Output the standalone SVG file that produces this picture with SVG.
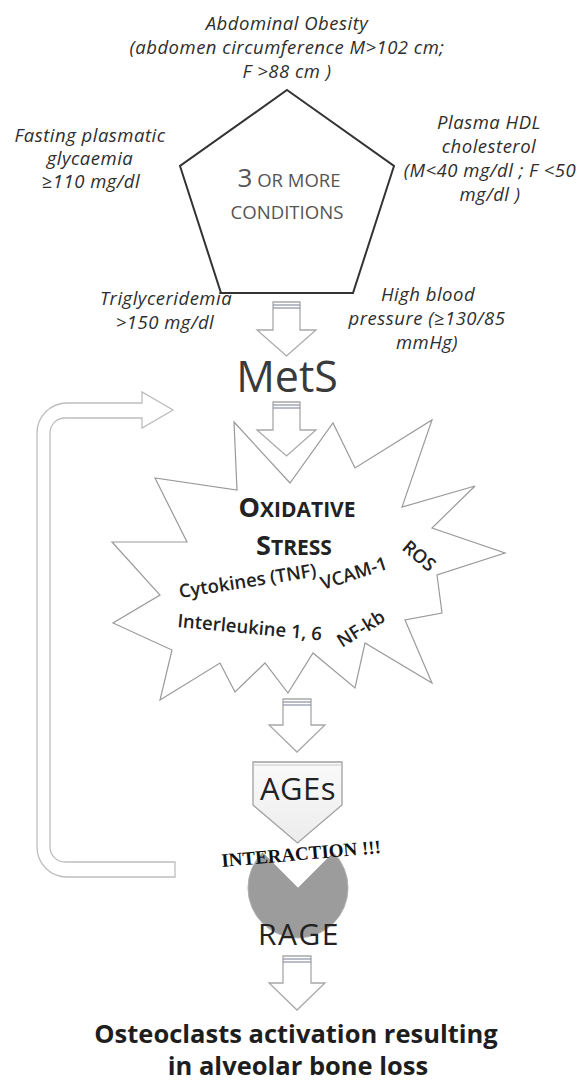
<svg xmlns="http://www.w3.org/2000/svg" width="580" height="1086" viewBox="0 0 580 1086">
<style>
.lbl{font-family:"Open Sans","Liberation Sans",sans-serif;font-style:italic;font-size:18.5px;letter-spacing:0.5px;fill:#2e2e2e;text-anchor:middle}
.sc{font-family:"Open Sans","Liberation Sans",sans-serif;fill:#555;text-anchor:middle}
.big{font-family:"Open Sans","Liberation Sans",sans-serif;text-anchor:middle}
.burst{font-family:"Open Sans","Liberation Sans",sans-serif;font-weight:600;font-size:18.5px;fill:#222}
.barrow{fill:#fff;stroke:#a8a8a8;stroke-width:1.3}
.stripe{stroke:#8c90a3;stroke-width:1.2}
.thin{stroke:#777;stroke-width:1.2;fill:none;marker-end:url(#ah)}
</style>
<defs>
<marker id="ah" viewBox="0 0 10 10" refX="9" refY="5" markerWidth="6" markerHeight="6" orient="auto" markerUnits="userSpaceOnUse">
<path d="M0,1 L10,5 L0,9 Z" fill="#777"/>
</marker>
<linearGradient id="agesg" x1="0" y1="0" x2="0" y2="1">
<stop offset="0" stop-color="#fafafa"/>
<stop offset="1" stop-color="#ececec"/>
</linearGradient>
</defs>
<rect width="580" height="1086" fill="#fff"/>

<g id="connectors">
<path id="feedback" d="M175,877 H67 A30,30 0 0 1 37,847 V433 A30,30 0 0 1 67,403 H142 V392 L173,410 L142,428 V418 H65 A15,15 0 0 0 50,433 V847 A15,15 0 0 0 65,862 H175 Z" fill="#fff" stroke="#bdbdbd" stroke-width="1.3"/>
<line class="thin" x1="287" y1="131" x2="287" y2="106"/>
<line class="thin" x1="217" y1="179" x2="192" y2="169"/>
<line class="thin" x1="354" y1="180" x2="382" y2="170"/>
<line class="thin" x1="247" y1="258" x2="231" y2="278"/>
<line class="thin" x1="333" y1="257" x2="348" y2="278"/>
</g>

<g id="conditions">
<polygon points="287,90 394,166 353,293 221,293 180,166" fill="#fff" stroke="#333" stroke-width="2"/>
<text class="sc" x="289" y="187"><tspan font-size="26">3</tspan><tspan font-size="18.5"> OR MORE</tspan></text>
<text class="sc" x="287" y="219" font-size="18.6">CONDITIONS</text>
</g>

<g id="abdominal-obesity">
<text class="lbl" x="287" y="30">Abdominal Obesity</text>
<text class="lbl" x="287" y="54">(abdomen circumference M&gt;102 cm;</text>
<text class="lbl" x="287" y="78">F &gt;88 cm )</text>
</g>
<g id="fasting-glycaemia">
<text class="lbl" x="90" y="142">Fasting plasmatic</text>
<text class="lbl" x="90" y="165">glycaemia</text>
<text class="lbl" x="91" y="188">≥110 mg/dl</text>
</g>
<g id="hdl">
<text class="lbl" x="489" y="129">Plasma HDL</text>
<text class="lbl" x="489" y="153">cholesterol</text>
<text class="lbl" x="490" y="177">(M&lt;40 mg/dl ; F &lt;50</text>
<text class="lbl" x="490" y="201">mg/dl )</text>
</g>
<g id="triglyceridemia">
<text class="lbl" x="166" y="305">Triglyceridemia</text>
<text class="lbl" x="165" y="329">&gt;150 mg/dl</text>
</g>
<g id="blood-pressure">
<text class="lbl" x="428" y="301">High blood</text>
<text class="lbl" x="427" y="325">pressure (≥130/85</text>
<text class="lbl" x="427" y="349">mmHg)</text>
</g>

<g id="arrow1">
<path class="barrow" d="M273,302 H300 V330 H316 L286.5,356 L257,330 H273 Z"/>
<line class="stripe" x1="273" y1="305" x2="300" y2="305"/>
<line class="stripe" x1="273" y1="308" x2="300" y2="308"/>
</g>

<g id="mets">
<text class="big" x="287" y="392" font-size="43" fill="#3a3a3a">MetS</text>
</g>

<g id="oxidative-stress">
<polygon points="234,422 290,483 333,423 355,468 432,420 402,507 475,486 432,528 505,553 437,575 442,613 405,620 432,683 365,643 355,688 313,653 288,693 265,663 235,692 220,663 160,700 172,650 113,623 160,595 112,542 187,542 155,478 237,490" fill="#fff" stroke="#9a9a9a" stroke-width="1.2" stroke-linejoin="miter"/>
<text class="big" x="297" y="517" font-weight="bold" fill="#222"><tspan font-size="27">O</tspan><tspan font-size="21">XIDATIVE</tspan></text>
<text class="big" x="294" y="555" font-weight="bold" fill="#222"><tspan font-size="27">S</tspan><tspan font-size="21">TRESS</tspan></text>
<text class="burst" transform="translate(180,598) rotate(-9)" font-size="17.8">Cytokines (TNF)</text>
<text class="burst" transform="translate(323,590) rotate(-18)">VCAM-1</text>
<text class="burst" transform="translate(401,549) rotate(40)">ROS</text>
<text class="burst" transform="translate(177,627) rotate(5.3)" font-size="18">Interleukine 1, 6</text>
<text class="burst" transform="translate(342,648) rotate(-32)">NF-kb</text>
</g>

<g id="arrow2">
<path class="barrow" d="M273,402 H300 V430 H316 L286.5,456 L257,430 H273 Z"/>
<line class="stripe" x1="273" y1="405" x2="300" y2="405"/>
<line class="stripe" x1="273" y1="408" x2="300" y2="408"/>
</g>

<g id="arrow3">
<path class="barrow" d="M283,699 H311 V725 H325 L297,752 L269,725 H283 Z"/>
<line class="stripe" x1="283" y1="702" x2="311" y2="702"/>
<line class="stripe" x1="283" y1="705" x2="311" y2="705"/>
</g>

<g id="ages">
<path d="M253,762 H342 V805 L297.5,843 L253,805 Z" fill="url(#agesg)" stroke="#a0a0a0" stroke-width="1.3"/>
<line x1="254" y1="765" x2="341" y2="765" stroke="#c8c8c8" stroke-width="1"/>
<text class="big" x="298" y="800" font-size="31" letter-spacing="0.5" fill="#222">AGEs</text>
</g>

<g id="rage">
<path d="M262.6,852.6 A50,50 0 1 0 333.4,852.6 L298,888 Z" fill="#9c9c9c" stroke="#b0b0b0" stroke-width="1"/>
<text class="big" x="299" y="945" font-size="30" letter-spacing="1.5" fill="#222">RAGE</text>
</g>

<g id="interaction">
<text transform="translate(222,867) rotate(-5)" font-family="Liberation Serif, serif" font-weight="bold" font-size="19" fill="#111">INTERACTION !!!</text>
</g>

<g id="arrow4">
<path class="barrow" d="M283,956 H311 V983 H325 L297,1010 L269,983 H283 Z"/>
<line class="stripe" x1="283" y1="959" x2="311" y2="959"/>
<line class="stripe" x1="283" y1="962" x2="311" y2="962"/>
</g>

<g id="outcome">
<text class="big" x="296" y="1043" font-size="25.5" font-weight="bold" fill="#1e1e1e">Osteoclasts activation resulting</text>
<text class="big" x="298" y="1075" font-size="25.5" font-weight="bold" fill="#1e1e1e">in alveolar bone loss</text>
</g>
</svg>
